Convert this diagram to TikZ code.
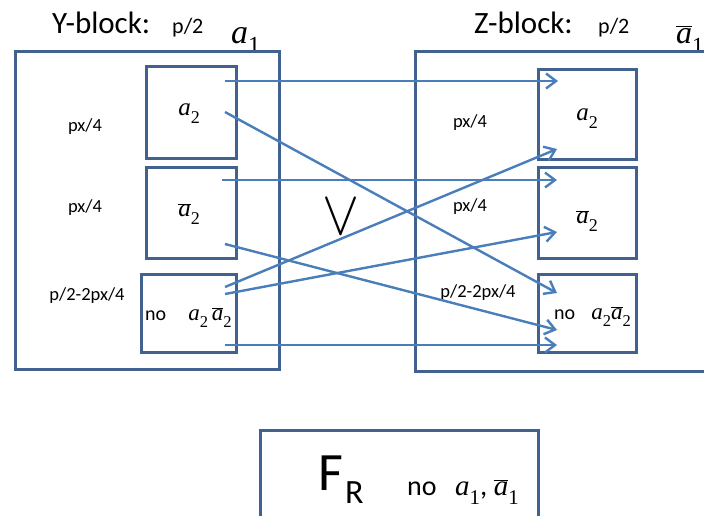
\documentclass[tikz,border=0pt]{standalone}
\usepackage{fontspec}
\setmainfont{Carlito}
\newfontfamily\tnr{Liberation Serif}
\usetikzlibrary{arrows.meta,calc}
\definecolor{boxc}{HTML}{41618F}
\definecolor{arrc}{HTML}{4A7EBB}
\newcommand\subn[1]{\raisebox{-0.32em}{\scalebox{0.72}{\tnr #1}}}
\newcommand\Aa[1]{{\tnr\itshape a}\subn{#1}}
\newcommand\Ab[1]{$\overline{\hbox{\tnr\itshape a}}$\subn{#1}}
\newcommand\fs[1]{\fontsize{#1}{#1}\selectfont}
\begin{document}
\begin{tikzpicture}[x=1pt,y=-1pt,
  bx/.style={draw=boxc,line width=3pt,inner sep=0pt,anchor=north west},
  ar/.style={draw=arrc,line width=2.4pt,-{Straight Barb[length=10pt,width=15pt]}},
  lbl/.style={inner sep=0pt,font=\fs{18.5}},
  bl/.style={inner sep=0pt,anchor=base west},
]
\clip (0,0) rectangle (704,515);
\fill[white] (0,0) rectangle (704,515);
% titles
\node[bl,font=\fs{31}] (yt) at (52,33) {Y-block:};
\node[bl,font=\fs{22}] (yp) at (172,33) {p/2};
\node[bl,font=\fs{34}] (ya) at (231,43) {\Aa{1}};
\node[bl,font=\fs{31}] (zt) at (474,33) {Z-block:};
\node[bl,font=\fs{22}] (zp) at (598,33) {p/2};
\node[bl,font=\fs{32}] (za) at (676,43) {\Ab{1}};
% outer boxes
\node[bx,minimum width=264pt,minimum height=318pt] (Y) at (14,50) {};
\node[bx,minimum width=300pt,minimum height=320pt] (Z) at (414,50) {};
% inner boxes
\node[bx,minimum width=90pt,minimum height=92pt] (Ya) at (145,65) {};
\node[bx,minimum width=90pt,minimum height=91pt] (Yb) at (145,166) {};
\node[bx,minimum width=95pt,minimum height=78pt] (Yc) at (140,273) {};
\node[bx,minimum width=98pt,minimum height=90pt] (Za) at (537,68) {};
\node[bx,minimum width=98pt,minimum height=91pt] (Zb) at (537,166) {};
\node[bx,minimum width=98pt,minimum height=78pt] (Zc) at (537,273) {};
% side labels
\node[lbl] (l1) at (85,127) {px/4};
\node[lbl] (l2) at (85,208) {px/4};
\node[lbl] (l3) at (87,296) {p/2-2px/4};
\node[lbl] (r1) at (470,123) {px/4};
\node[lbl] (r2) at (470,207) {px/4};
\node[lbl] (r3) at (478,293) {p/2-2px/4};
% box contents
\node[inner sep=0pt,font=\fs{25}] (ta) at (189,114) {\Aa{2}};
\node[inner sep=0pt,font=\fs{25}] (tb) at (189,214) {\Ab{2}};
\node[bl,font=\fs{20}] (tc) at (145,320) {no\hspace{22pt}{\fs{23}\Aa{2}\,\Ab{2}}};
\node[inner sep=0pt,font=\fs{25}] (ua) at (587,119) {\Aa{2}};
\node[inner sep=0pt,font=\fs{25}] (ub) at (587,221) {\Ab{2}};
\node[bl,font=\fs{20}] (uc) at (554,319) {no\hspace{16pt}{\fs{23}\Aa{2}\Ab{2}}};
% vee
\node[inner sep=0pt] (v) at (341,217) {\resizebox{37pt}{35pt}{$\vee$}};
% arrows
\coordinate (s1) at (225,81);  \coordinate (e1) at (558,81);
\coordinate (s2) at (225,112); \coordinate (e2) at (557,293);
\coordinate (s3) at (222,180); \coordinate (e3) at (557,180);
\coordinate (s4) at (225,244); \coordinate (e4) at (557,330);
\coordinate (s5) at (225,287); \coordinate (e5) at (557,149);
\coordinate (s6) at (225,294); \coordinate (e6) at (557,232);
\coordinate (s7) at (225,345); \coordinate (e7) at (557,345);
\foreach \i in {1,...,7} {\draw[ar] (s\i) -- (e\i);}
% F_R box
\node[bx,minimum width=278pt,minimum height=100pt] (F) at (259,429) {};
\node[bl,font=\fs{54}] (fF) at (318,490) {F};
\node[bl,font=\fs{34}] (fR) at (345,503) {R};
\node[bl,font=\fs{28}] (fno) at (407,495) {no};
\node[bl,font=\fs{29}] (fa) at (455,495) {\Aa{1}, \Ab{1}};
\end{tikzpicture}
\end{document}
